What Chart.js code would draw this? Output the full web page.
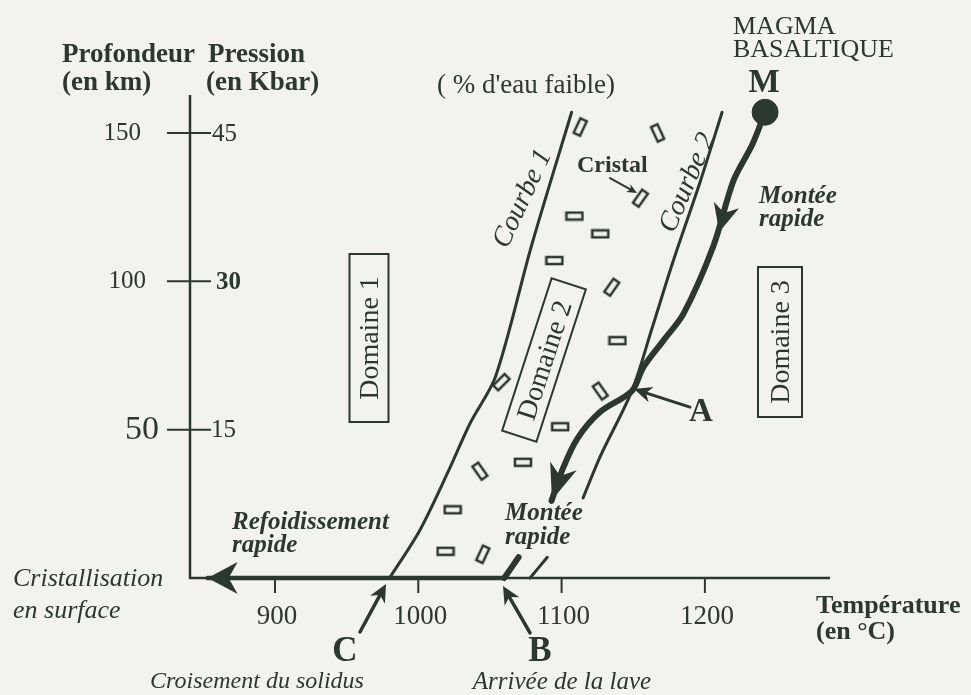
<!DOCTYPE html>
<html><head><meta charset="utf-8">
<script src="https://cdn.jsdelivr.net/npm/chart.js@4/dist/chart.umd.min.js"></script>
<style>
html,body{margin:0;padding:0;background:#f2f2ef;}
#wrap{width:971px;height:695px;position:relative;}
</style></head><body>
<div id="wrap"><canvas id="c" width="971" height="695"></canvas></div>
<script>
// ---------- data (température °C, profondeur km) ----------
const courbe1Temp  = [980, 1001, 1021, 1036, 1054, 1079, 1107];
const courbe1Depth = [0, 16, 36, 52, 68, 112, 157];
const courbe2Temp  = [1078, 1090, null, 1115, 1127, 1149, 1163, 1178, 1197, 1212];
const courbe2Depth = [0, 7, null, 27, 41, 63, 84, 107, 134, 157];
const magmaTemp  = [1242, 1233, 1220, 1206, 1185, 1171, 1157, 1149, 1127, 1111, 1101, 1093, null, 1070, 1060];
const magmaDepth = [157, 146, 134, 112, 89, 80, 71, 63, 56, 47, 37, 26, null, 7, 0];
const surfaceTemp  = [1060, 853];
const surfaceDepth = [0, 0];
const crystalTemp  = [1113, 1167, 1155, 1109, 1127, 1095, 1135, 1139, 1058, 1127, 1099, 1073, 1043, 1024, 1019, 1045];
const crystalDepth = [152, 150, 128, 122, 116, 107, 98, 80, 66, 63, 51, 39, 36, 23, 9, 8];
const crystalAngle = [-65, 65, -55, 0, 0, 0, -55, 0, -45, 55, 0, 0, 55, 0, 0, -65];
const pointM = [1242, 157];
const tempTicks = [900, 1000, 1100, 1200];
const depthTicks = [150, 100, 50];
const pressureTicks = [45, 30, 15];
const xMin = 840.7, xMax = 1287.3, yMin = 0, yMax = 162.8;

const INK = '#2b382f';
const BG = '#f2f2ef';
const SERIF = '"Liberation Serif", "DejaVu Serif", serif';

function pts(t, d){ return t.map((v,i)=>({x: v, y: d[i]})); }

function crystalImg(){
  const c = document.createElement('canvas'); c.width = 20; c.height = 11;
  const g = c.getContext('2d');
  g.fillStyle = BG; g.fillRect(2,2,16,7);
  g.strokeStyle = INK; g.lineWidth = 2.5; g.strokeRect(2,2,16,7);
  return c;
}

function arrowHead(ctx, x1, y1, x2, y2, len, w){
  const a = Math.atan2(y2-y1, x2-x1);
  const c = Math.cos(a), s = Math.sin(a);
  const bx = x2 - c*len, by = y2 - s*len;
  const nx = x2 - c*len*0.7, ny = y2 - s*len*0.7;
  ctx.beginPath();
  ctx.moveTo(x2, y2);
  ctx.lineTo(bx - s*w/2, by + c*w/2);
  ctx.lineTo(nx, ny);
  ctx.lineTo(bx + s*w/2, by - c*w/2);
  ctx.closePath();
  ctx.fill();
}

// annotation arrows in data units: [fromT, fromD, toT, toD, lineWidth, headLen, headWidth, drawShaft]
const arrows = [
  [1133.8, 134.8, 1152.6, 129.8, 2, 10, 9, true],   // Cristal
  [1189.6, 57.6, 1150.5, 63.7, 3, 18, 16, true],    // A
  [959.3, -18.2, 977.5, -2.0, 3.5, 18, 17, true],   // C
  [1078, -18.5, 1059.1, -2.7, 3.5, 18, 17, true],   // B
  [1060, 0, 853, 0, 0, 30, 32, false],              // cristallisation en surface
  [1219.6, 134.1, 1210, 116.6, 0, 28, 26, false],   // montée rapide (haut)
  [1101, 37.4, 1093.3, 26.3, 0, 36, 28, false]      // montée rapide (bas)
];

const texts = [
  ['Profondeur', 62, 55, 'bold 27px', 'left'],
  ['(en km)', 62, 83, 'bold 27px', 'left'],
  ['Pression', 208, 55, 'bold 27px', 'left'],
  ['(en Kbar)', 206, 83, 'bold 27px', 'left'],
  ["( % d'eau faible)", 437, 86, '27px', 'left'],
  ['MAGMA', 733, 27, '26px', 'left'],
  ['BASALTIQUE', 733, 50, '26px', 'left'],
  ['M', 764, 83, 'bold 33px', 'center'],
  ['Cristal', 577, 166, 'bold 24px', 'left'],
  ['Montée', 759, 197, 'bold italic 25px', 'left'],
  ['rapide', 759, 220, 'bold italic 25px', 'left'],
  ['Montée', 505, 514, 'bold italic 25px', 'left'],
  ['rapide', 505, 538, 'bold italic 25px', 'left'],
  ['Refoidissement', 232, 523, 'bold italic 25px', 'left'],
  ['rapide', 232, 546, 'bold italic 25px', 'left'],
  ['A', 701, 412, 'bold 33px', 'center'],
  ['C', 345, 652, 'bold 35px', 'center'],
  ['B', 540, 652, 'bold 35px', 'center'],
  ['Croisement du solidus', 257, 682, 'italic 24px', 'center'],
  ['Arrivée de la lave', 562, 682, 'italic 25px', 'center'],
  ['Cristallisation', 13, 579, 'italic 26px', 'left'],
  ['en surface', 13, 611, 'italic 26px', 'left'],
  ['Température', 816, 606, 'bold 26px', 'left'],
  ['(en °C)', 816, 632, 'bold 26px', 'left']
];
// rotated labels: text, cx, cy, angle, font, box [len, thick] or null
const rotTexts = [
  ['Courbe 1', 521, 198, -65, 'italic 28px', null],
  ['Courbe 2', 686, 182, -67, 'italic 28px', null],
  ['Domaine 1', 369, 338, -90, '28px', [168, 39]],
  ['Domaine 2', 544, 360, -72, '28px', [160, 36]],
  ['Domaine 3', 780, 342, -90, '28px', [150, 44]]
];

const decor = {
  id: 'decor',
  beforeDatasetsDraw(chart){
    const ctx = chart.ctx, xs = chart.scales.x, ys = chart.scales.y;
    const x0 = xs.getPixelForValue(xMin), y0 = ys.getPixelForValue(0);
    ctx.save();
    ctx.strokeStyle = INK; ctx.fillStyle = INK; ctx.lineWidth = 2.5;
    ctx.beginPath();
    ctx.moveTo(x0, ys.getPixelForValue(yMax)); ctx.lineTo(x0, y0);
    ctx.lineTo(xs.getPixelForValue(xMax), y0);
    ctx.stroke();
    ctx.lineWidth = 2;
    ctx.textBaseline = 'middle'; ctx.textAlign = 'center';
    ctx.font = '27px ' + SERIF;
    tempTicks.forEach(t => {
      const px = xs.getPixelForValue(t);
      ctx.beginPath(); ctx.moveTo(px, y0); ctx.lineTo(px, y0 + 15); ctx.stroke();
      ctx.fillText(String(t), px + 2, y0 + 39);
    });
    const leftFonts = ['25px ', '25px ', '34px '];
    const leftRight = [141, 146, 159];
    const rightFonts = ['25px ', 'bold 25px ', '25px '];
    const rightLeft = [212, 216, 211];
    depthTicks.forEach((d, i) => {
      const py = ys.getPixelForValue(d);
      ctx.beginPath(); ctx.moveTo(x0 - 23, py); ctx.lineTo(x0 + 21, py); ctx.stroke();
      ctx.textAlign = 'right'; ctx.font = leftFonts[i] + SERIF;
      ctx.fillText(String(d), leftRight[i], py);
      ctx.textAlign = 'left'; ctx.font = rightFonts[i] + SERIF;
      ctx.fillText(String(pressureTicks[i]), rightLeft[i], py + 1);
    });
    ctx.restore();
  },
  afterDatasetsDraw(chart){
    const ctx = chart.ctx, xs = chart.scales.x, ys = chart.scales.y;
    ctx.save();
    ctx.strokeStyle = INK; ctx.fillStyle = INK; ctx.lineCap = 'round';
    arrows.forEach(a => {
      const x1 = xs.getPixelForValue(a[0]), y1 = ys.getPixelForValue(a[1]);
      const x2 = xs.getPixelForValue(a[2]), y2 = ys.getPixelForValue(a[3]);
      if (a[7]) {
        const ang = Math.atan2(y2-y1, x2-x1);
        ctx.lineWidth = a[4];
        ctx.beginPath(); ctx.moveTo(x1, y1);
        ctx.lineTo(x2 - Math.cos(ang)*a[5]*0.6, y2 - Math.sin(ang)*a[5]*0.6); ctx.stroke();
      }
      arrowHead(ctx, x1, y1, x2, y2, a[5], a[6]);
    });
    ctx.textBaseline = 'middle';
    texts.forEach(t => {
      ctx.font = t[3] + ' ' + SERIF; ctx.textAlign = t[4];
      ctx.fillText(t[0], t[1], t[2]);
    });
    rotTexts.forEach(r => {
      ctx.save();
      ctx.translate(r[1], r[2]); ctx.rotate(r[3]*Math.PI/180);
      if (r[5]) {
        ctx.fillStyle = BG; ctx.fillRect(-r[5][0]/2, -r[5][1]/2, r[5][0], r[5][1]);
        ctx.lineWidth = 2; ctx.strokeRect(-r[5][0]/2, -r[5][1]/2, r[5][0], r[5][1]);
        ctx.fillStyle = INK;
      }
      ctx.font = r[4] + ' ' + SERIF; ctx.textAlign = 'center'; ctx.textBaseline = 'middle';
      ctx.fillText(r[0], 0, 2);
      ctx.restore();
    });
    ctx.restore();
  }
};

const lineDs = (label, data, w) => ({
  label, data, showLine: true, borderColor: INK, borderWidth: w,
  pointRadius: 0, tension: 0.3, spanGaps: false, clip: false,
  borderCapStyle: 'round', borderJoinStyle: 'round'
});

new Chart(document.getElementById('c'), {
  type: 'scatter',
  data: { datasets: [
    lineDs('Courbe 1', pts(courbe1Temp, courbe1Depth), 3),
    lineDs('Courbe 2', pts(courbe2Temp, courbe2Depth), 3),
    lineDs('Trajet du magma', pts(magmaTemp, magmaDepth), 6),
    lineDs('Cristallisation en surface', pts(surfaceTemp, surfaceDepth), 4.5),
    { label: 'Cristaux', data: pts(crystalTemp, crystalDepth), pointStyle: crystalImg(),
      pointRadius: 6, pointRotation: crystalAngle, showLine: false, clip: false },
    { label: 'M', data: [{x: pointM[0], y: pointM[1]}], pointRadius: 13, pointBackgroundColor: INK,
      pointBorderColor: INK, showLine: false, clip: false }
  ]},
  options: {
    responsive: false, animation: false,
    layout: { padding: { left: 190, right: 141, top: 95, bottom: 117 } },
    scales: {
      x: { type: 'linear', min: xMin, max: xMax, display: false },
      y: { type: 'linear', min: yMin, max: yMax, display: false }
    },
    plugins: { legend: { display: false }, tooltip: { enabled: false } }
  },
  plugins: [decor]
});
</script>
</body></html>
